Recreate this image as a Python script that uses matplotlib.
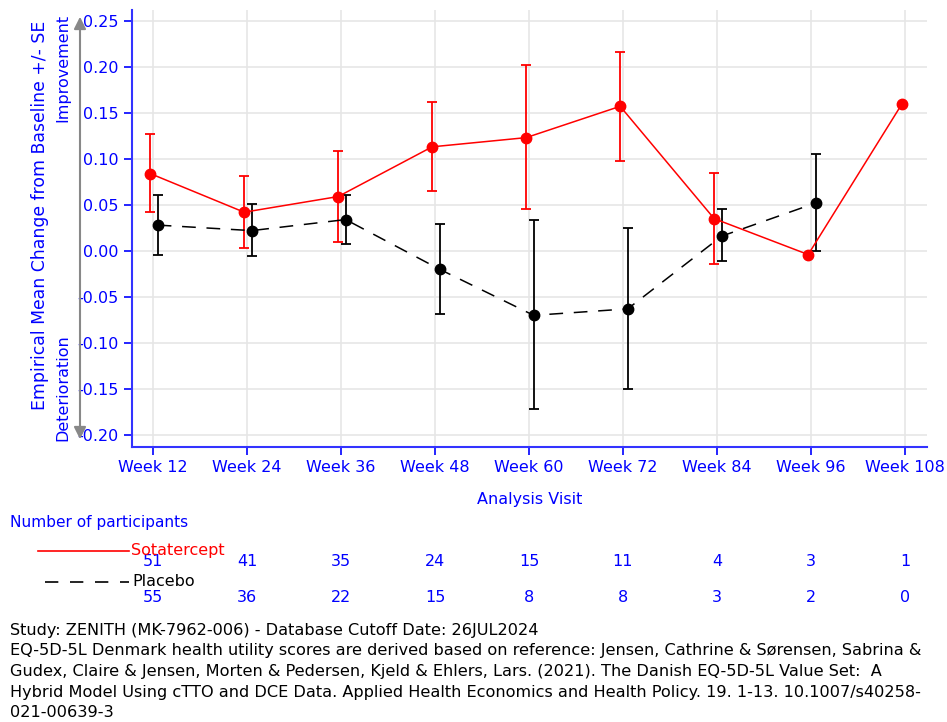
import matplotlib
matplotlib.use("Agg")
import matplotlib.pyplot as plt
import matplotlib.transforms as mtransforms

plt.rcParams['font.family'] = ['DejaVu Sans']
plt.rcParams['axes.unicode_minus'] = False

visits = ['Week 12', 'Week 24', 'Week 36', 'Week 48', 'Week 60',
          'Week 72', 'Week 84', 'Week 96', 'Week 108']

# Sotatercept: mean change and mean +/- SE
sota_mean = [0.084, 0.042, 0.059, 0.113, 0.123, 0.157, 0.035, -0.004, 0.160]
sota_lo = [0.042, 0.003, 0.010, 0.065, 0.045, 0.098, -0.014, None, None]
sota_hi = [0.127, 0.081, 0.109, 0.162, 0.202, 0.216, 0.085, None, None]

# Placebo (no week 108)
plac_mean = [0.028, 0.022, 0.034, -0.020, -0.070, -0.063, 0.016, 0.052]
plac_lo = [-0.004, -0.006, 0.008, -0.069, -0.172, -0.150, -0.011, 0.000]
plac_hi = [0.061, 0.051, 0.061, 0.029, 0.033, 0.025, 0.045, 0.105]

sota_n = [51, 41, 35, 24, 15, 11, 4, 3, 1]
plac_n = [55, 36, 22, 15, 8, 8, 3, 2, 0]

yticks = [0.25, 0.20, 0.15, 0.10, 0.05, 0.00, -0.05, -0.10, -0.15, -0.20]

W, H = 947, 722
fig = plt.figure(figsize=(W / 100, H / 100), dpi=100)
ax = fig.add_axes([132 / W, 1 - 447 / H, (927 - 132) / W, (447 - 10) / H])

blue = '#0000ff'


def draw_group(mean, lo, hi, shift, color, ls):
    xs = [i + shift for i in range(len(mean))]
    ax.plot(xs, mean, color=color, ls=ls, lw=1.1, dashes=(9, 7) if ls == '--' else (None, None),
            marker='o', ms=7.5, zorder=3)
    ex, ey, el, eh = [], [], [], []
    for x, m, a, b in zip(xs, mean, lo, hi):
        if a is None:
            continue
        ex.append(x)
        ey.append(m)
        el.append(m - a)
        eh.append(b - m)
    ax.errorbar(ex, ey, yerr=[el, eh], fmt='none', ecolor=color, elinewidth=1.3,
                capsize=3.3, capthick=1.3, zorder=2)


draw_group(sota_mean, sota_lo, sota_hi, -0.03, 'red', '-')
draw_group(plac_mean, plac_lo, plac_hi, 0.05, 'black', '--')

ax.set_xlim(-0.223, 8.234)
ax.set_ylim(-0.213, 0.2616)
ax.set_xticks(range(len(visits)))
ax.set_xticklabels(visits)
ax.set_yticks(yticks)
ax.set_yticklabels(['%.2f' % v for v in yticks])
ax.grid(True, color='#e6e6e6', lw=1.2)
ax.set_axisbelow(True)
for s in ['top', 'right']:
    ax.spines[s].set_visible(False)
for s in ['left', 'bottom']:
    ax.spines[s].set_color('#3333ff')
    ax.spines[s].set_linewidth(1.5)
ax.tick_params(colors=blue, labelcolor=blue, labelsize=11.5, length=6, width=1.2)

ax.set_xlabel('Analysis Visit', color=blue, fontsize=11.5, labelpad=12)

# y label, direction text and arrow
fig.text(40 / W, 1 - 215 / H, 'Empirical Mean Change from Baseline +/- SE', rotation=90,
         color=blue, fontsize=12.4, ha='center', va='center')
fig.text(63 / W, 1 - 14 / H, 'Improvement', rotation=90, color=blue, fontsize=11.5,
         ha='center', va='top')
fig.text(63 / W, 1 - 441 / H, 'Deterioration', rotation=90, color=blue, fontsize=11.5,
         ha='center', va='bottom')
fig.add_artist(matplotlib.patches.FancyArrowPatch(
    (80 / W, 1 - 442 / H), (80 / W, 1 - 14 / H), transform=fig.transFigure,
    arrowstyle='<|-|>', mutation_scale=18, color='#888888', lw=1.5))

# participants table
trans = mtransforms.blended_transform_factory(ax.transData, fig.transFigure)
fig.text(10 / W, 1 - 523 / H, 'Number of participants', color=blue, fontsize=11.1, va='center')
fig.add_artist(matplotlib.lines.Line2D([38 / W, 129 / W], [1 - 551 / H] * 2,
                                       color='red', lw=1.2))
fig.text(131 / W, 1 - 551 / H, 'Sotatercept', color='red', fontsize=11.5, va='center')
fig.add_artist(matplotlib.lines.Line2D([45 / W, 129 / W], [1 - 582 / H] * 2,
                                       color='black', lw=1.2, dashes=(8, 7)))
fig.text(132 / W, 1 - 582 / H, 'Placebo', color='black', fontsize=11.5, va='center')
for i, (a, b) in enumerate(zip(sota_n, plac_n)):
    ax.text(i, 1 - 562 / H, str(a), transform=trans, color=blue, fontsize=11.5,
            ha='center', va='center')
    ax.text(i, 1 - 598 / H, str(b), transform=trans, color=blue, fontsize=11.5,
            ha='center', va='center')

footnote = [
    'Study: ZENITH (MK-7962-006) - Database Cutoff Date: 26JUL2024',
    'EQ-5D-5L Denmark health utility scores are derived based on reference: Jensen, Cathrine & S\u00f8rensen, Sabrina &',
    'Gudex, Claire & Jensen, Morten & Pedersen, Kjeld & Ehlers, Lars. (2021). The Danish EQ-5D-5L Value Set:  A',
    'Hybrid Model Using cTTO and DCE Data. Applied Health Economics and Health Policy. 19. 1-13. 10.1007/s40258-',
    '021-00639-3',
]
for k, line in enumerate(footnote):
    fig.text(10 / W, 1 - (630 + 20.7 * k) / H, line, color='black', fontsize=11.6, va='center')

fig.savefig('out.png', dpi=100)
